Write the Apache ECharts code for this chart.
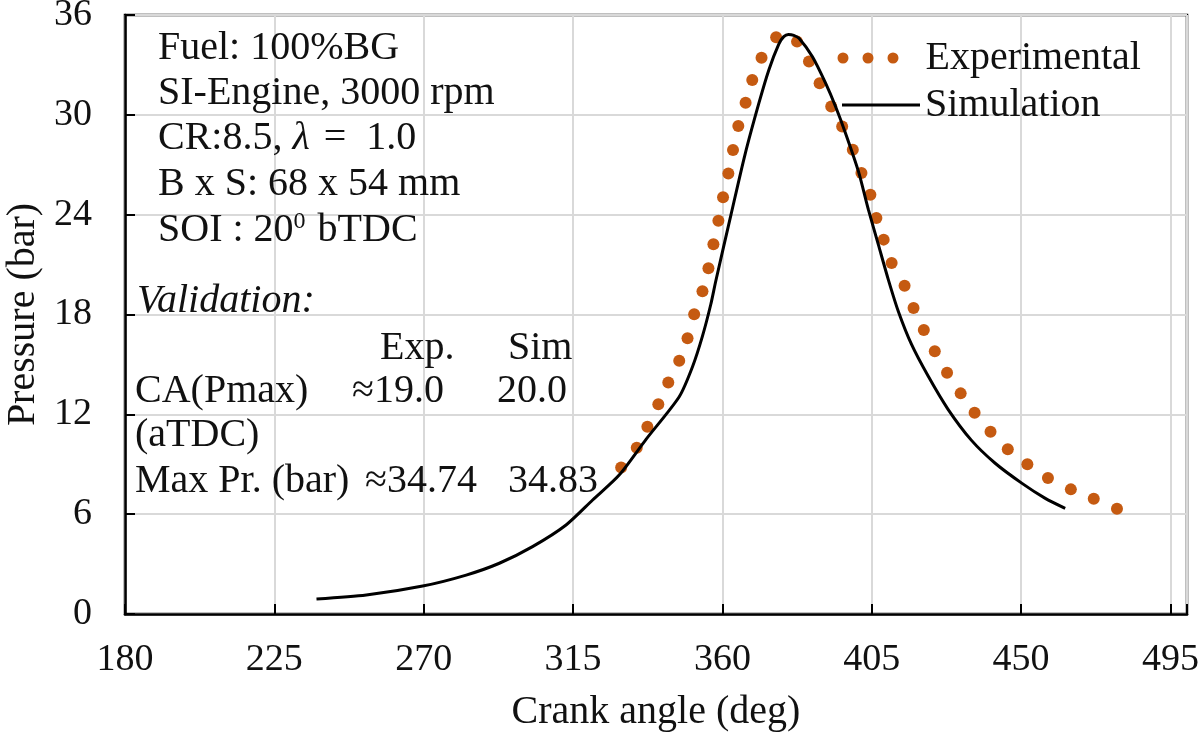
<!DOCTYPE html>
<html>
<head>
<meta charset="utf-8">
<script src="https://cdn.jsdelivr.net/npm/echarts@6/dist/echarts.min.js"></script>
<style>
  html, body { margin: 0; padding: 0; background: #fff; }
  #chart { width: 1200px; height: 736px; }
</style>
</head>
<body>
<div id="chart"></div>
<script>
// tick labels
const xTickLabels = [180, 225, 270, 315, 360, 405, 450, 495]
const yTickLabels = [0, 6, 12, 18, 24, 30, 36]

// simulation curve (crank angle deg, pressure bar)
const simAngle = [237.7, 252.7, 269.7, 282.8, 292.8, 302.8, 312.9, 320.9, 328.9, 337.0, 347.0,
  351.0, 354.0, 356.5, 358.0, 362.6, 366.8, 371.0, 374.0, 377.0, 378.5, 379.9, 381.5, 383.1, 387.1,
  391.1, 394.1, 397.1, 401.0, 404.0, 407.0, 410.0, 413.0, 417.0, 422.0, 428.0, 435.0, 442.2, 450.3,
  457.3, 463.3]
const simPressure = [0.9, 1.14, 1.68, 2.34, 3.05, 4.05, 5.35, 6.85, 8.35, 10.5, 13.06,
  14.86, 16.7, 18.6, 20.0, 24.0, 27.6, 30.7, 32.7, 34.25, 34.7, 34.83, 34.78, 34.6, 33.5,
  31.9, 30.5, 28.9, 26.6, 24.3, 22.2, 20.1, 18.2, 16.2, 14.3, 12.3, 10.45, 9.06, 7.85,
  6.95, 6.35]

// experimental points
const expAngle = [329.5, 334.2, 337.4, 340.7, 343.7, 347.0, 349.5, 351.5, 354.0, 355.8, 357.3, 358.8,
  360.2, 361.8, 363.2, 364.8, 367.0, 369.0, 371.8, 376.2, 382.5, 386.1, 389.3, 392.8, 396.1, 399.3,
  401.9, 404.6, 406.4, 408.6, 411.0, 414.9, 417.6, 420.7, 424.0, 427.7, 431.8, 436.0, 440.8, 446.0,
  451.9, 458.1, 465.0, 471.9, 478.9]
const expPressure = [8.8, 9.99, 11.26, 12.6, 13.92, 15.22, 16.57, 18.02, 19.4, 20.78, 22.22, 23.64,
  25.04, 26.48, 27.88, 29.33, 30.73, 32.09, 33.43, 34.66, 34.4, 33.2, 31.9, 30.5, 29.3, 27.9,
  26.5, 25.2, 23.8, 22.5, 21.1, 19.73, 18.39, 17.07, 15.79, 14.5, 13.26, 12.1, 10.96, 9.9,
  9.0, 8.17, 7.49, 6.93, 6.33]

const infoLines = ['Fuel: 100%BG', 'SI-Engine, 3000 rpm', 'CR:8.5, {i|λ} {m|=} 1.0', 'B x S: 68 x 54 mm', 'SOI : 20{s|0} bTDC']
const tableHead = ['Exp.', 'Sim']
const tableRows = [
  ['CA(Pmax)', '≈19.0', '20.0'],
  ['(aTDC)', '', ''],
  ['Max Pr. (bar)', '≈34.74', '34.83']
]

const FONT = '"Liberation Serif", "Times New Roman", serif'
const chart = echarts.init(document.getElementById('chart'), null, { renderer: 'canvas' })

function txt(text, x, y, extra) {
  return {
    type: 'text', left: x, top: y, z: 10,
    style: Object.assign({
      text: text, x: 0, y: 0, fill: '#111', fontFamily: FONT, fontSize: 40,
      verticalAlign: 'top',
      rich: {
        i: { fontFamily: FONT, fontSize: 40, fontStyle: 'italic', fill: '#111' },
        m: { fontFamily: FONT, fontSize: 40, fill: '#111', padding: [0, 10, 0, 4] },
        s: { fontFamily: FONT, fontSize: 24, verticalAlign: 'top', fill: '#111', padding: [0, 2, 0, 0] }
      }
    }, extra || {})
  }
}

const graphics = []
const infoTop = [28, 73, 118, 164, 210]
infoLines.forEach((t, i) => graphics.push(txt(t, 158, infoTop[i])))
graphics.push(txt('Validation:', 137, 281, { fontStyle: 'italic' }))
graphics.push(txt(tableHead[0], 380, 328))
graphics.push(txt(tableHead[1], 508, 328))
const rowTop = [371, 415, 461]
const col2 = [352, 0, 365]
const col3 = [497, 0, 508]
tableRows.forEach((r, i) => {
  graphics.push(txt(r[0], 135, rowTop[i]))
  if (r[1]) graphics.push(txt(r[1], col2[i], rowTop[i]))
  if (r[2]) graphics.push(txt(r[2], col3[i], rowTop[i]))
})

const dotsIcon = 'path://M0,5.5A5.5,5.5,0,1,1,11,5.5A5.5,5.5,0,1,1,0,5.5ZM25,5.5A5.5,5.5,0,1,1,36,5.5A5.5,5.5,0,1,1,25,5.5ZM50,5.5A5.5,5.5,0,1,1,61,5.5A5.5,5.5,0,1,1,50,5.5Z'

const option = {
  backgroundColor: '#fff',
  animation: false,
  grid: {
    left: 125, right: 13, top: 15, bottom: 122,
    outerBoundsMode: 'none', containLabel: false,
    show: true, borderColor: '#000', borderWidth: 2.5, backgroundColor: 'transparent'
  },
  legend: [
    {
      data: [{ name: 'Experimental', icon: dotsIcon }],
      left: 837.5, top: 38, padding: 0,
      itemWidth: 61, itemHeight: 11,
      textStyle: { fontFamily: FONT, fontSize: 40, color: '#111', padding: [0, 0, 0, 22] }
    },
    {
      data: [{ name: 'Simulation', icon: 'rect' }],
      left: 842, top: 85, padding: 0,
      itemWidth: 78, itemHeight: 3,
      itemStyle: { color: '#000' },
      textStyle: { fontFamily: FONT, fontSize: 40, color: '#111' }
    }
  ],
  xAxis: {
    type: 'value',
    min: xTickLabels[0], max: 500, interval: xTickLabels[1] - xTickLabels[0],
    name: 'Crank angle (deg)', nameLocation: 'middle', nameGap: 78,
    nameTextStyle: { fontFamily: FONT, fontSize: 40, color: '#111' },
    axisLine: { lineStyle: { color: '#000', width: 2.5 } },
    axisTick: { inside: true, length: 10, lineStyle: { color: '#000', width: 2 } },
    axisLabel: {
      fontFamily: FONT, fontSize: 38, color: '#111', margin: 27,
      formatter: v => xTickLabels.indexOf(v) >= 0 ? String(v) : ''
    },
    splitLine: { show: true, lineStyle: { color: '#d9d9d9', width: 2 } }
  },
  yAxis: {
    type: 'value',
    min: yTickLabels[0], max: yTickLabels[yTickLabels.length - 1], interval: yTickLabels[1] - yTickLabels[0],
    name: 'Pressure (bar)', nameLocation: 'middle', nameGap: 80,
    nameTextStyle: { fontFamily: FONT, fontSize: 40, color: '#111' },
    axisLine: { show: true, lineStyle: { color: '#000', width: 2.5 } },
    axisTick: { show: true, inside: true, length: 10, lineStyle: { color: '#000', width: 2 } },
    axisLabel: { fontFamily: FONT, fontSize: 38, color: '#111', margin: 33 },
    splitLine: { show: true, lineStyle: { color: '#d9d9d9', width: 2 } }
  },
  series: [
    {
      name: 'Experimental',
      type: 'scatter',
      symbol: 'circle',
      symbolSize: 12,
      itemStyle: { color: '#C55A11', opacity: 1 },
      data: expAngle.map((a, i) => [a, expPressure[i]]),
      z: 3
    },
    {
      name: 'Simulation',
      type: 'line',
      symbol: 'none',
      smooth: 0.25,
      lineStyle: { color: '#000', width: 3 },
      itemStyle: { color: '#000' },
      data: simAngle.map((a, i) => [a, simPressure[i]]),
      z: 4
    }
  ],
  graphic: graphics
}

chart.setOption(option)
window.addEventListener('resize', () => chart.resize())
</script>
</body>
</html>
